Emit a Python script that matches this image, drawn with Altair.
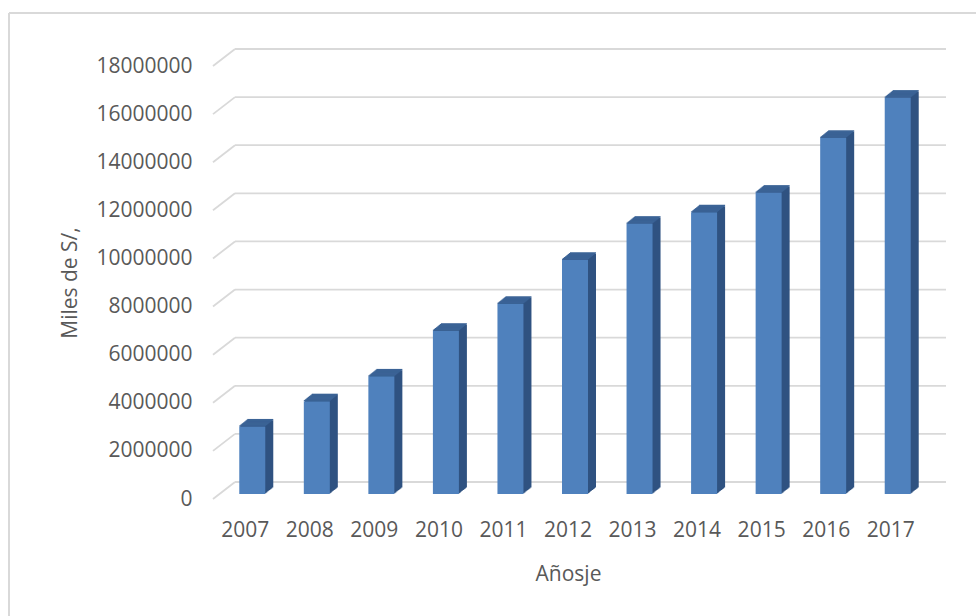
import altair as alt
import pandas as pd

# Annual amounts (thousands of soles)
years = ["2007", "2008", "2009", "2010", "2011", "2012", "2013", "2014", "2015", "2016", "2017"]
amounts = [2800000, 3850000, 4880000, 6780000, 7900000, 9730000,
           11230000, 11700000, 12520000, 14800000, 16470000]
tick_values = [0, 2000000, 4000000, 6000000, 8000000, 10000000,
               12000000, 14000000, 16000000, 18000000]

bars = pd.DataFrame({"anio": years, "monto": amounts})
grid = pd.DataFrame({"monto": tick_values})
frame = pd.DataFrame({"k": [0]})

W, H = 710, 433
WALL_DX, WALL_DY = 22, 17      # depth of the back wall
BAR_W = 26
BAR_SHIFT, BAR_LIFT = 7, 5     # front face position inside the depth
STEPS = 8                      # extrusion steps for the 3-D sides
STEP_DY = 0.8

FONT = "Open Sans"
FS = 21
TEXT = "#595959"
GRID = "#d9d9d9"
FRONT = "#4f81bd"
SIDE = "#2f5281"
TOP = "#3b6396"

y_scale = alt.Scale(domain=[0, 18000000], nice=False, zero=True)
x_scale = alt.Scale(domain=years, paddingInner=0, paddingOuter=0)

x_ax = alt.Axis(
    title="Añosje", labelAngle=0, domain=False, ticks=False, grid=False,
    labelFont=FONT, labelFontSize=FS, labelColor=TEXT, labelPadding=20,
    titleFont=FONT, titleFontSize=FS, titleFontWeight="normal", titleColor=TEXT,
    titleX=W / 2, titleY=75, titleAlign="center", titleBaseline="middle",
)
y_ax = alt.Axis(
    title="Miles de S/,", values=tick_values, format="d",
    domain=False, ticks=False, grid=False,
    labelFont=FONT, labelFontSize=FS, labelColor=TEXT, labelPadding=21,
    titleFont=FONT, titleFontSize=FS, titleFontWeight="normal", titleColor=TEXT,
    titleX=-143, titleY=H / 2, titleAngle=-90, titleAlign="center",
    titleBaseline="middle",
)

x_enc = alt.X("anio:N", scale=x_scale, axis=x_ax)
y_enc = alt.Y("monto:Q", scale=y_scale, axis=y_ax)

# chart frame (top and left edges)
frame_top = alt.Chart(frame).mark_rule(color=GRID, strokeWidth=2).encode(
    x=alt.value(-204), x2=alt.value(W + 53), y=alt.value(-53)
)
frame_left = alt.Chart(frame).mark_rule(color=GRID, strokeWidth=2).encode(
    x=alt.value(-204), y=alt.value(-53), y2=alt.value(H + 117)
)

# back wall gridlines and the floor-side slants
back_grid = alt.Chart(grid).mark_rule(color=GRID, strokeWidth=1.8, yOffset=-WALL_DY).encode(
    x=alt.value(WALL_DX), x2=alt.value(W + WALL_DX + 1), y=y_enc,
)
side_grid = alt.Chart(grid).mark_rule(color=GRID, strokeWidth=1.8, y2Offset=-WALL_DY).encode(
    x=alt.value(0), x2=alt.value(WALL_DX), y=y_enc, y2=alt.Y2("monto"),
)

layers = [frame_top, frame_left, back_grid, side_grid]

# extruded body of each column
for k in range(1, STEPS + 1):
    dy = -BAR_LIFT - k * STEP_DY
    layers.append(
        alt.Chart(bars).mark_bar(
            color=SIDE, width=BAR_W, xOffset=BAR_SHIFT + k, yOffset=dy, y2Offset=dy
        ).encode(x=x_enc, y=y_enc, y2=alt.datum(0))
    )

# top faces
for k in range(0, STEPS + 1):
    dy = -BAR_LIFT - k * STEP_DY
    layers.append(
        alt.Chart(bars).mark_bar(
            color=TOP, width=BAR_W, xOffset=BAR_SHIFT + k, yOffset=dy - 1.3, y2Offset=dy
        ).encode(x=x_enc, y=y_enc, y2=alt.Y2("monto"))
    )

# front faces
front = alt.Chart(bars).mark_bar(
    color=FRONT, width=BAR_W, xOffset=BAR_SHIFT, yOffset=-BAR_LIFT, y2Offset=-BAR_LIFT
).encode(x=x_enc, y=y_enc, y2=alt.datum(0))
layers.append(front)

chart = alt.layer(*layers).properties(
    width=W, height=H,
    autosize=alt.AutoSizeParams(type="none"),
    padding={"left": 213, "top": 66, "right": 53, "bottom": 117},
    background="white",
).configure_view(stroke=None)

chart.save("out.html", embed_options={"renderer": "svg", "actions": False})
